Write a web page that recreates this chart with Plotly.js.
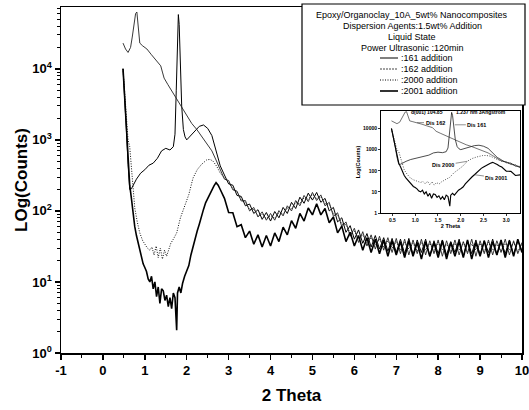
<!DOCTYPE html>
<html>
<head>
<meta charset="utf-8">
<script src="https://cdn.plot.ly/plotly-3.0.1.min.js"></script>
<style>html,body{margin:0;padding:0;background:#fff;}#chart{width:529px;height:410px;}</style>
</head>
<body>
<div id="chart"></div>
<script>
// ---- data ----
const xTail = [
  2.9,3.0,3.1,3.2,3.3,3.4,3.5,3.6,3.7,3.8,
  3.9,4.0,4.1,4.2,4.3,4.4,4.5,4.6,4.7,4.8,
  4.9,5.0,5.1,5.2,5.3,5.4,5.5,5.6,5.7,5.8,
  5.9,6.0,6.1,6.2,6.3,6.4,6.5,6.6,6.7,6.8,
  6.9,7.0,7.1,7.2,7.3,7.4,7.5,7.6,7.7,7.8,
  7.9,8.0,8.1,8.2,8.3,8.4,8.5,8.6,8.7,8.8,
  8.9,9.0,9.1,9.2,9.3,9.4,9.5,9.6,9.7,9.8,
  9.9,10.0];

const x161Head = [0.48,0.52,0.56,0.60,0.64,0.68,0.72,0.80,0.90,1.00,1.10,1.20,1.30,1.40,1.50,1.60,1.68,1.72,1.75,1.78,1.80,1.82,1.85,1.88,1.92,1.96,2.00,2.10,2.20,2.30,2.40,2.50,2.60,2.70,2.80];
const y161Head = [10000,4200,1400,450,200,205,230,280,340,380,440,470,550,700,760,720,800,1200,5000,30000,58000,42000,12000,3000,1400,1100,1000,1150,1350,1550,1620,1450,1150,700,430];
const y161Tail = [
  320,240,230,165,160,118,125,92,104,76,
  95,72,98,80,112,92,132,108,156,128,
  178,142,182,132,150,100,112,70,80,50,
  62,40,54,35,48,31,45,29,42,27,
  41,26,40,25,41,24,39,26,40,23,
  38,25,39,24,37,26,40,23,38,25,
  39,24,38,26,40,24,37,25,39,24,
  38,27];

const x162Head = [0.48,0.54,0.60,0.66,0.70,0.74,0.78,0.81,0.84,0.88,0.95,1.05,1.15,1.25,1.32,1.38,1.42,1.46,1.55,1.67,1.80,1.92,2.00,2.12,2.24,2.36,2.48,2.60,2.70,2.80];
const y162Head = [23000,19000,17000,20000,28000,45000,60000,63000,38000,23000,21000,19000,16000,13500,12000,11000,9000,7400,6000,4600,3400,2600,2200,1700,1400,1100,900,700,520,380];
const y162Tail = [
  280,268,198,190,138,140,100,112,82,97,
  74,92,74,101,85,118,100,140,118,165,
  135,182,140,168,118,132,84,94,60,70,
  44,57,36,51,32,46,29,44,28,42,
  26,41,25,40,24,39,25,40,24,38,
  25,39,23,38,25,39,24,37,25,40,
  23,38,25,39,24,38,26,40,24,38,
  25,36];

const x2000Head = [0.48,0.52,0.56,0.60,0.64,0.70,0.76,0.82,0.88,0.95,1.00,1.06,1.12,1.17,1.22,1.27,1.32,1.37,1.42,1.47,1.52,1.57,1.62,1.68,1.76,1.85,1.95,2.05,2.15,2.25,2.35,2.48,2.56,2.63,2.72,2.80];
const y2000Head = [10000,4500,2000,1000,800,300,110,70,49,38,34,30,28,31,24,32,22,30,21,28,23,29,35,40,49,80,115,170,290,380,450,525,530,500,420,340];
const y2000Tail = [
  290,250,205,185,142,132,104,105,86,90,
  78,86,79,94,90,110,107,131,126,153,
  146,170,150,158,126,124,91,88,65,64,
  49,52,41,46,36,42,33,40,31,38,
  30,37,28,36,29,35,27,36,28,35,
  27,36,28,34,27,35,28,36,27,34,
  28,35,27,36,28,34,27,35,28,36,
  27,34];

const x2001Head = [0.48,0.52,0.56,0.60,0.64,0.68,0.72,0.76,0.80,0.84,
  0.88,0.92,0.96,1.00,1.04,1.08,1.12,1.16,1.20,1.24,
  1.28,1.32,1.36,1.40,1.44,1.48,1.52,1.56,1.60,1.64,
  1.68,1.72,1.76,1.78,1.82,1.86,1.90,1.95,2.00,2.05,
  2.10,2.15,2.20,2.25,2.30,2.35,2.40,2.45,2.50,2.55,
  2.60,2.65,2.70,2.75,2.80,2.85];
const y2001Head = [10000,4000,1500,500,230,150,85,60,45,35,
  28,22,18,16,14,11,10,12,8,10,
  6.2,8.5,5,8,7.5,5.5,6.5,4.5,6,4.2,
  7,6,2.1,7,8.5,7,9.5,12,14,17,
  24,32,40,52,65,85,105,130,150,175,
  205,225,250,230,200,170];
const y2001Tail = [
  150,95,94,60,64,42,52,34,46,31,
  45,32,49,37,59,46,73,57,92,72,
  110,88,126,88,108,68,82,49,61,37,
  50,32,45,28,42,26,40,25,39,23,
  38,24,37,22,38,23,36,21,37,23,
  36,22,38,21,36,23,37,22,39,21,
  36,23,38,22,37,24,39,22,38,23,
  40,26];

const seriesNames = [':161 addition', ':162 addition', ':2000 addition', ':2001 addition'];
const insetLabels = ['Dis 161', 'Dis 162', 'Dis 2000', 'Dis 2001'];
const headerLines = ['Epoxy/Organoclay_10A_5wt% Nanocomposites', 'Dispersion Agents:1.5wt% Addition', 'Liquid State', 'Power Ultrasonic :120min'];
const xTickVals = [-1, 0, 1, 2, 3, 4, 5, 6, 7, 8, 9, 10];
const xTickText = ['-1', '0', '1', '2', '3', '4', '5', '6', '7', '8', '9', '10'];
const yTickVals = [1, 10, 100, 1000, 10000];
const yTickText = ['10<sup>0</sup>', '10<sup>1</sup>', '10<sup>2</sup>', '10<sup>3</sup>', '10<sup>4</sup>'];
const insetYTickText = ['1', '10', '100', '1000', '10000'];
const insetXTickVals = [0.5, 1.0, 1.5, 2.0, 2.5, 3.0];
const insetXTickText = ['0.5', '1.0', '1.5', '2.0', '2.5', '3.0'];
const insetPeakLabels = ['d(001) 104.85', '1.237 nm 3Angstrom'];

// ---- build ----
const series = [
  {x: x161Head.concat(xTail), y: y161Head.concat(y161Tail), line: {color: '#000', width: 1}},
  {x: x162Head.concat(xTail), y: y162Head.concat(y162Tail), line: {color: '#222', width: 0.9}},
  {x: x2000Head.concat(xTail), y: y2000Head.concat(y2000Tail), line: {color: '#111', width: 1, dash: '1px,1.5px'}},
  {x: x2001Head.concat(xTail), y: y2001Head.concat(y2001Tail), line: {color: '#000', width: 1.6}}
];

const traces = [];
series.forEach((s, i) => {
  traces.push({type: 'scatter', mode: 'lines', x: s.x, y: s.y, name: seriesNames[i], line: s.line, showlegend: false, xaxis: 'x', yaxis: 'y'});
});
series.forEach((s, i) => {
  const l = Object.assign({}, s.line, {width: s.line.width * 0.7});
  traces.push({type: 'scatter', mode: 'lines', x: s.x, y: s.y, name: insetLabels[i], line: l, showlegend: false, xaxis: 'x2', yaxis: 'y2'});
});

const F = 'Arial, "Liberation Sans", sans-serif';
const boldTick = {family: F, size: 13, color: '#000', weight: 'bold'};

// legend box (paper coords; plot area px x 61..522, y 7..353)
const px2x = p => (p - 61) / 461;
const py2y = p => (353 - p) / 346;

const shapes = [
  {type: 'rect', xref: 'paper', yref: 'paper', x0: px2x(302), x1: px2x(525), y0: py2y(105), y1: py2y(4), line: {color: '#000', width: 1.2}, fillcolor: 'rgba(255,255,255,1)', layer: 'above'}
];
const sampleStyles = [
  {color: '#000', width: 1, dash: 'solid'},
  {color: '#444', width: 1, dash: '2px,1px'},
  {color: '#000', width: 1, dash: '1px,1.5px'},
  {color: '#000', width: 1.6, dash: 'solid'}
];
const itemY = [58, 69, 80, 91];
sampleStyles.forEach((st, i) => {
  shapes.push({type: 'line', xref: 'paper', yref: 'paper', x0: px2x(380), x1: px2x(398), y0: py2y(itemY[i]), y1: py2y(itemY[i]), line: st, layer: 'above'});
});

const annotations = [];
const headerY = [15, 26, 37, 48];
headerLines.forEach((t, i) => {
  annotations.push({xref: 'paper', yref: 'paper', x: px2x(412), y: py2y(headerY[i]), text: t, showarrow: false, xanchor: 'center', yanchor: 'middle', font: {family: F, size: 9, color: '#000'}});
});
seriesNames.forEach((t, i) => {
  annotations.push({xref: 'paper', yref: 'paper', x: px2x(399), y: py2y(itemY[i]), text: t, showarrow: false, xanchor: 'left', yanchor: 'middle', font: {family: F, size: 9, color: '#000'}});
});
// inset labels
const insetFont = {family: F, size: 5.5, color: '#000', weight: 'bold'};
annotations.push({xref: 'x2', yref: 'y2', x: 1.87, y: Math.log10(15000), text: insetLabels[0], showarrow: true, arrowhead: 0, arrowwidth: 0.6, ax: 22, ay: 0, font: insetFont});
annotations.push({xref: 'x2', yref: 'y2', x: 1.04, y: Math.log10(19000), text: insetLabels[1], showarrow: true, arrowhead: 0, arrowwidth: 0.6, ax: 18, ay: 0, font: insetFont});
annotations.push({xref: 'x2', yref: 'y2', x: 2.14, y: Math.log10(280), text: insetLabels[2], showarrow: true, arrowhead: 0, arrowwidth: 0.6, ax: -24, ay: 4, font: insetFont});
annotations.push({xref: 'x2', yref: 'y2', x: 2.3, y: Math.log10(65), text: insetLabels[3], showarrow: true, arrowhead: 0, arrowwidth: 0.6, ax: 22, ay: 3, font: insetFont});
annotations.push({xref: 'x2', yref: 'y2', x: 0.86, y: Math.log10(62000), text: insetPeakLabels[0], showarrow: false, xanchor: 'left', yanchor: 'middle', font: {family: F, size: 5, color: '#000', weight: 'bold'}});
annotations.push({xref: 'x2', yref: 'y2', x: 1.86, y: Math.log10(62000), text: insetPeakLabels[1], showarrow: false, xanchor: 'left', yanchor: 'middle', font: {family: F, size: 5, color: '#000', weight: 'bold'}});

const layout = {
  width: 529, height: 410,
  margin: {l: 61, r: 7, t: 7, b: 57},
  paper_bgcolor: '#fff', plot_bgcolor: 'rgba(0,0,0,0)',
  showlegend: false,
  xaxis: {
    domain: [0, 1], range: [-1, 10], anchor: 'y',
    showline: true, linecolor: '#000', linewidth: 1.5, mirror: true,
    ticks: 'outside', ticklen: 5, tickwidth: 1.5, tickcolor: '#000',
    tickmode: 'array', tickvals: xTickVals, ticktext: xTickText, ticklabeloverflow: 'allow',
    minor: {dtick: 0.5, tick0: 0, ticks: 'outside', ticklen: 3, tickwidth: 1, tickcolor: '#000', showgrid: false},
    tickfont: boldTick, showgrid: false, zeroline: false,
    title: {text: '2 Theta', font: {family: F, size: 17, color: '#000', weight: 'bold'}, standoff: 12}
  },
  yaxis: {
    domain: [0, 1], type: 'log', range: [0, 4.87], anchor: 'x',
    showline: true, linecolor: '#000', linewidth: 1.5, mirror: true,
    ticks: 'outside', ticklen: 5, tickwidth: 1.5, tickcolor: '#000',
    tickmode: 'array', tickvals: yTickVals, ticktext: yTickText,
    minor: {dtick: 'D1', ticks: 'outside', ticklen: 3, tickwidth: 1, tickcolor: '#000', showgrid: false},
    tickfont: boldTick, showgrid: false, zeroline: false,
    title: {text: 'LOg(Counts)', font: {family: F, size: 17, color: '#000', weight: 'bold'}, standoff: 0}
  },
  xaxis2: {
    domain: [px2x(381), px2x(520)], range: [0.25, 3.3], anchor: 'y2',
    showline: true, linecolor: '#000', linewidth: 1, mirror: true,
    ticks: 'outside', ticklen: 2, tickwidth: 0.8, tickcolor: '#000',
    tickmode: 'array', tickvals: insetXTickVals, ticktext: insetXTickText,
    tickfont: {family: F, size: 5, color: '#000', weight: 'bold'},
    showgrid: false, zeroline: false,
    title: {text: '2 Theta', font: {family: F, size: 5.5, color: '#000', weight: 'bold'}, standoff: 1}
  },
  yaxis2: {
    domain: [py2y(213), py2y(111)], type: 'log', range: [0, 4.83], anchor: 'x2',
    showline: true, linecolor: '#000', linewidth: 1, mirror: true,
    ticks: 'outside', ticklen: 2, tickwidth: 0.8, tickcolor: '#000',
    tickmode: 'array', tickvals: yTickVals, ticktext: insetYTickText,
    tickfont: {family: F, size: 5, color: '#000', weight: 'bold'},
    showgrid: false, zeroline: false,
    title: {text: 'Log(Counts)', font: {family: F, size: 5.5, color: '#000', weight: 'bold'}, standoff: 2}
  },
  shapes: shapes,
  annotations: annotations
};

Plotly.newPlot('chart', traces, layout, {staticPlot: true, displayModeBar: false});
</script>
</body>
</html>
